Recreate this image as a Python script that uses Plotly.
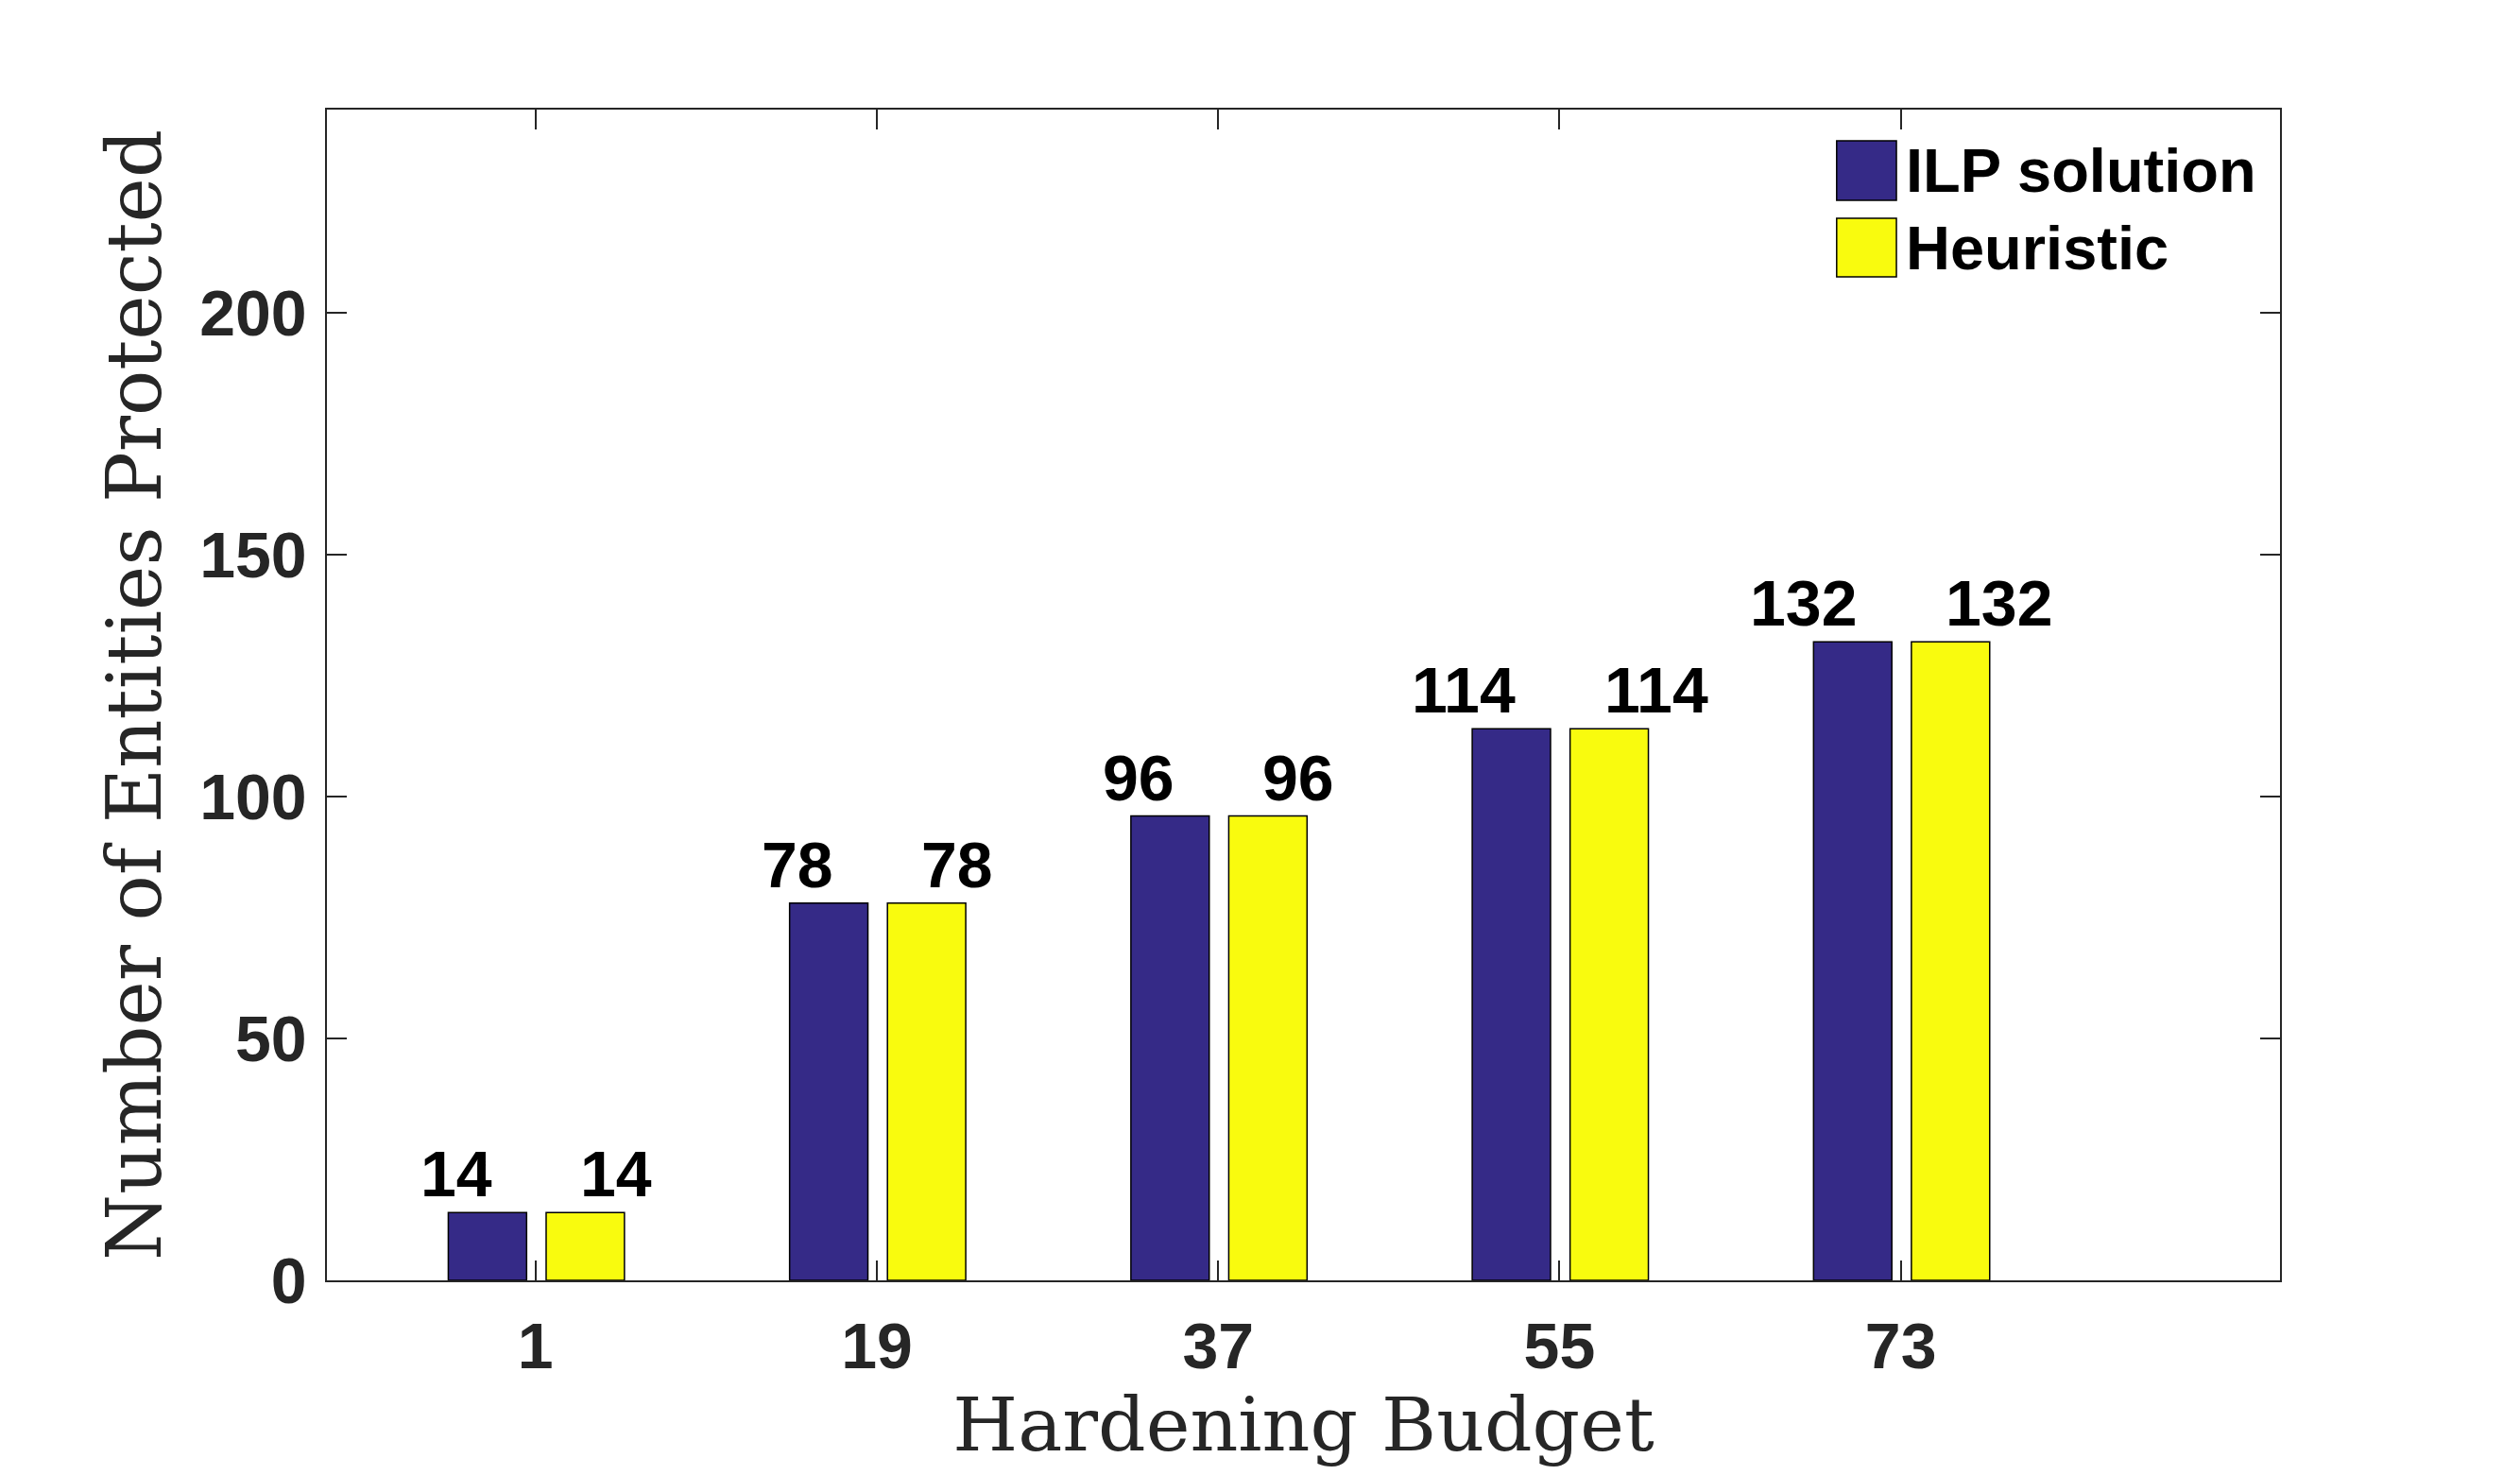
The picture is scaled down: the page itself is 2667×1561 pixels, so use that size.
import plotly.graph_objects as go

budgets = [1, 19, 37, 55, 73]
ilp_values = [14, 78, 96, 114, 132]
heuristic_values = [14, 78, 96, 114, 132]
series_names = ["ILP solution", "Heuristic"]
y_ticks = [0, 50, 100, 150, 200]

ILP_COLOR = "#352A87"
HEU_COLOR = "#F9FB0E"
AX_COLOR = "#262626"
SANS = "Liberation Sans, Arial, Helvetica, sans-serif"
SERIF = "DejaVu Serif, serif"

fig = go.Figure()
fig.add_trace(go.Bar(x=budgets, y=ilp_values, name=series_names[0],
                     marker=dict(color=ILP_COLOR, line=dict(color="black", width=1.5)),
                     offset=-4.6, width=4.13, showlegend=False))
fig.add_trace(go.Bar(x=budgets, y=heuristic_values, name=series_names[1],
                     marker=dict(color=HEU_COLOR, line=dict(color="black", width=1.5)),
                     offset=0.56, width=4.13, showlegend=False))

# value labels
for xv, yv in zip(budgets, ilp_values):
    fig.add_annotation(x=xv - 2.2, y=yv, text=f"<b>{yv}</b>", showarrow=False,
                       xanchor="right", yanchor="bottom", yshift=1,
                       font=dict(family=SANS, size=68, color="black"))
for xv, yv in zip(budgets, heuristic_values):
    fig.add_annotation(x=xv + 2.25, y=yv, text=f"<b>{yv}</b>", showarrow=False,
                       xanchor="left", yanchor="bottom", yshift=1,
                       font=dict(family=SANS, size=68, color="black"))

# manual legend
legend_items = [(series_names[0], ILP_COLOR, 0.9734, 0.9225),
                (series_names[1], HEU_COLOR, 0.9072, 0.8571)]
for name, col, y1, y0 in legend_items:
    fig.add_shape(type="rect", xref="paper", yref="paper", x0=0.773, x1=0.8036,
                  y0=y0, y1=y1, fillcolor=col, line=dict(color="black", width=1.5))
    fig.add_annotation(xref="paper", yref="paper", x=0.8074, y=(y0 + y1) / 2,
                       text=f"<b>{name}</b>", showarrow=False, xanchor="left",
                       yanchor="middle", font=dict(family=SANS, size=65, color="black"))

fig.update_layout(
    width=2667, height=1561,
    margin=dict(l=346, r=254, t=116, b=206),
    paper_bgcolor="white", plot_bgcolor="white",
    barmode="overlay",
    xaxis=dict(range=[-10, 93], tickvals=budgets, ticktext=[f"<b>{b}</b>" for b in budgets],
               ticks="inside", ticklen=21, tickwidth=1.5, tickcolor=AX_COLOR,
               showline=True, linecolor=AX_COLOR, linewidth=1.5, mirror="ticks",
               showgrid=False, zeroline=False, ticklabelstandoff=10, automargin=False,
               tickfont=dict(family=SANS, size=68, color=AX_COLOR),
               title=dict(text="Hardening Budget", standoff=18,
                          font=dict(family=SERIF, size=79, color=AX_COLOR))),
    yaxis=dict(range=[0, 242], tickvals=y_ticks, ticktext=[f"<b>{t}</b>" for t in y_ticks],
               ticks="inside", ticklen=21, tickwidth=1.5, tickcolor=AX_COLOR,
               showline=True, linecolor=AX_COLOR, linewidth=1.5, mirror="ticks",
               showgrid=False, zeroline=False, ticklabelstandoff=6, automargin=False,
               tickfont=dict(family=SANS, size=68, color=AX_COLOR),
               title=dict(text="Number of Entities Protected", standoff=14,
                          font=dict(family=SERIF, size=80, color=AX_COLOR))),
)

fig.write_html("out.html")
